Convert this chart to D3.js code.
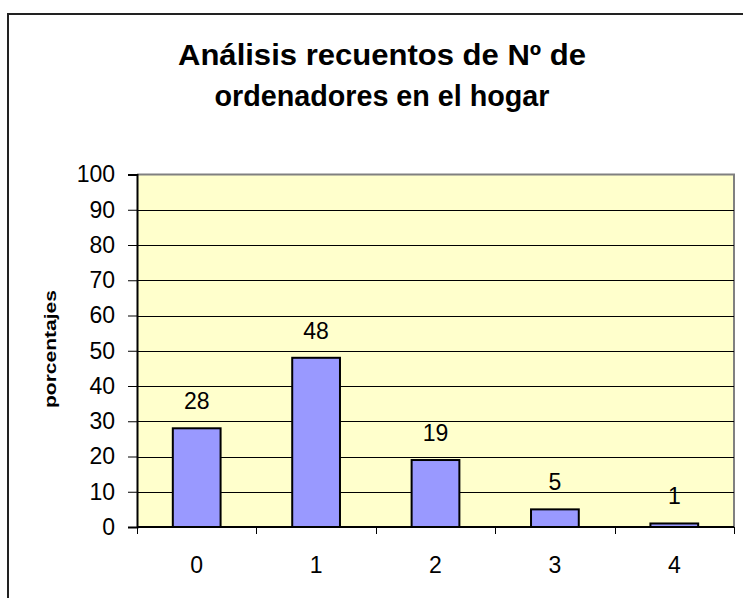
<!DOCTYPE html>
<html lang="es">
<head>
<meta charset="UTF-8">
<title>Análisis recuentos de Nº de ordenadores en el hogar</title>
<script src="https://d3js.org/d3.v7.min.js"></script>
<style>
body { margin: 0; background: #fff; }
text { font-family: "Liberation Sans", Arial, sans-serif; fill: #000; }
</style>
</head>
<body>
<div id="chart"></div>
<script>
// datos
var categorias = ["0", "1", "2", "3", "4"];
var porcentajes = [28, 48, 19, 5, 1];
var ticksY = [0, 10, 20, 30, 40, 50, 60, 70, 80, 90, 100];

var width = 743, height = 598;
var plot = {left: 137, right: 734, top: 174.5, bottom: 527};

var svg = d3.select("#chart").append("svg")
    .attr("width", width)
    .attr("height", height);

// marco exterior
svg.append("rect")
    .attr("x", 8).attr("y", 14)
    .attr("width", 760).attr("height", 620)
    .attr("fill", "#fff")
    .attr("stroke", "#222")
    .attr("stroke-width", 2);

var x = d3.scaleBand()
    .domain(categorias)
    .range([plot.left, plot.right]);
var y = d3.scaleLinear()
    .domain([0, 100])
    .range([plot.bottom, plot.top]);

// fondo del area de trazado
svg.append("rect")
    .attr("x", plot.left).attr("y", plot.top)
    .attr("width", plot.right - plot.left)
    .attr("height", plot.bottom - plot.top)
    .attr("fill", "#ffffcc");

// borde gris arriba y derecha
svg.append("path")
    .attr("d", "M" + plot.left + "," + plot.top + "H" + plot.right + "V" + plot.bottom)
    .attr("fill", "none")
    .attr("stroke", "#808080")
    .attr("stroke-width", 2);

// lineas de division
svg.selectAll("line.grid")
    .data(ticksY.filter(function(d) { return d > 0 && d < 100; }))
    .enter().append("line")
    .attr("class", "grid")
    .attr("x1", plot.left).attr("x2", plot.right)
    .attr("y1", function(d) { return Math.round(y(d)) + 0.5; })
    .attr("y2", function(d) { return Math.round(y(d)) + 0.5; })
    .attr("stroke", "#000")
    .attr("stroke-width", 1);

// barras
var bw = x.bandwidth() * 0.4;
svg.selectAll("rect.bar")
    .data(porcentajes)
    .enter().append("rect")
    .attr("class", "bar")
    .attr("x", function(d, i) { return x(categorias[i]) + (x.bandwidth() - bw) / 2; })
    .attr("y", function(d) { return y(d); })
    .attr("width", bw)
    .attr("height", function(d) { return y(0) - y(d); })
    .attr("fill", "#9999ff")
    .attr("stroke", "#000")
    .attr("stroke-width", 2);

// etiquetas de datos
svg.selectAll("text.valor")
    .data(porcentajes)
    .enter().append("text")
    .attr("class", "valor")
    .attr("x", function(d, i) { return x(categorias[i]) + x.bandwidth() / 2; })
    .attr("y", function(d) { return y(d) - 19; })
    .attr("text-anchor", "middle")
    .style("font-size", "23px")
    .text(function(d) { return d; });

// eje y
var yAxis = d3.axisLeft(y).tickValues(ticksY).tickSize(9).tickPadding(13);
var gy = svg.append("g")
    .attr("transform", "translate(" + plot.left + ",0)")
    .call(yAxis);
gy.attr("font-family", null).attr("font-size", null);
gy.select(".domain").attr("stroke", "#000").attr("stroke-width", 2);
gy.selectAll(".tick line").attr("stroke", "#000");
gy.selectAll(".tick text").style("font-size", "23px");

// eje x
var xEdges = categorias.map(function(c) { return x(c); }).concat([plot.right]);
svg.append("line")
    .attr("x1", plot.left).attr("x2", plot.right)
    .attr("y1", plot.bottom).attr("y2", plot.bottom)
    .attr("stroke", "#000").attr("stroke-width", 2);
svg.selectAll("line.xtick")
    .data(xEdges)
    .enter().append("line")
    .attr("class", "xtick")
    .attr("x1", function(d) { return Math.round(d) + 0.5; })
    .attr("x2", function(d) { return Math.round(d) + 0.5; })
    .attr("y1", plot.bottom).attr("y2", plot.bottom + 7)
    .attr("stroke", "#000");
svg.selectAll("text.xlab")
    .data(categorias)
    .enter().append("text")
    .attr("class", "xlab")
    .attr("x", function(d) { return x(d) + x.bandwidth() / 2; })
    .attr("y", 573)
    .attr("text-anchor", "middle")
    .style("font-size", "23px")
    .text(function(d) { return d; });

// titulo
var titulo = ["Análisis recuentos de Nº de", "ordenadores en el hogar"];
var anchoTitulo = [408, 335];
svg.selectAll("text.titulo")
    .data(titulo)
    .enter().append("text")
    .attr("class", "titulo")
    .attr("x", 382)
    .attr("y", function(d, i) { return 65 + i * 41; })
    .attr("text-anchor", "middle")
    .attr("textLength", function(d, i) { return anchoTitulo[i]; })
    .attr("lengthAdjust", "spacingAndGlyphs")
    .style("font-size", "29px")
    .style("font-weight", "bold")
    .text(function(d) { return d; });

// titulo eje y
svg.append("text")
    .attr("transform", "translate(56,349) rotate(-90)")
    .attr("text-anchor", "middle")
    .attr("textLength", 118)
    .attr("lengthAdjust", "spacingAndGlyphs")
    .style("font-size", "16px")
    .style("font-weight", "bold")
    .text("porcentajes");
</script>
</body>
</html>
